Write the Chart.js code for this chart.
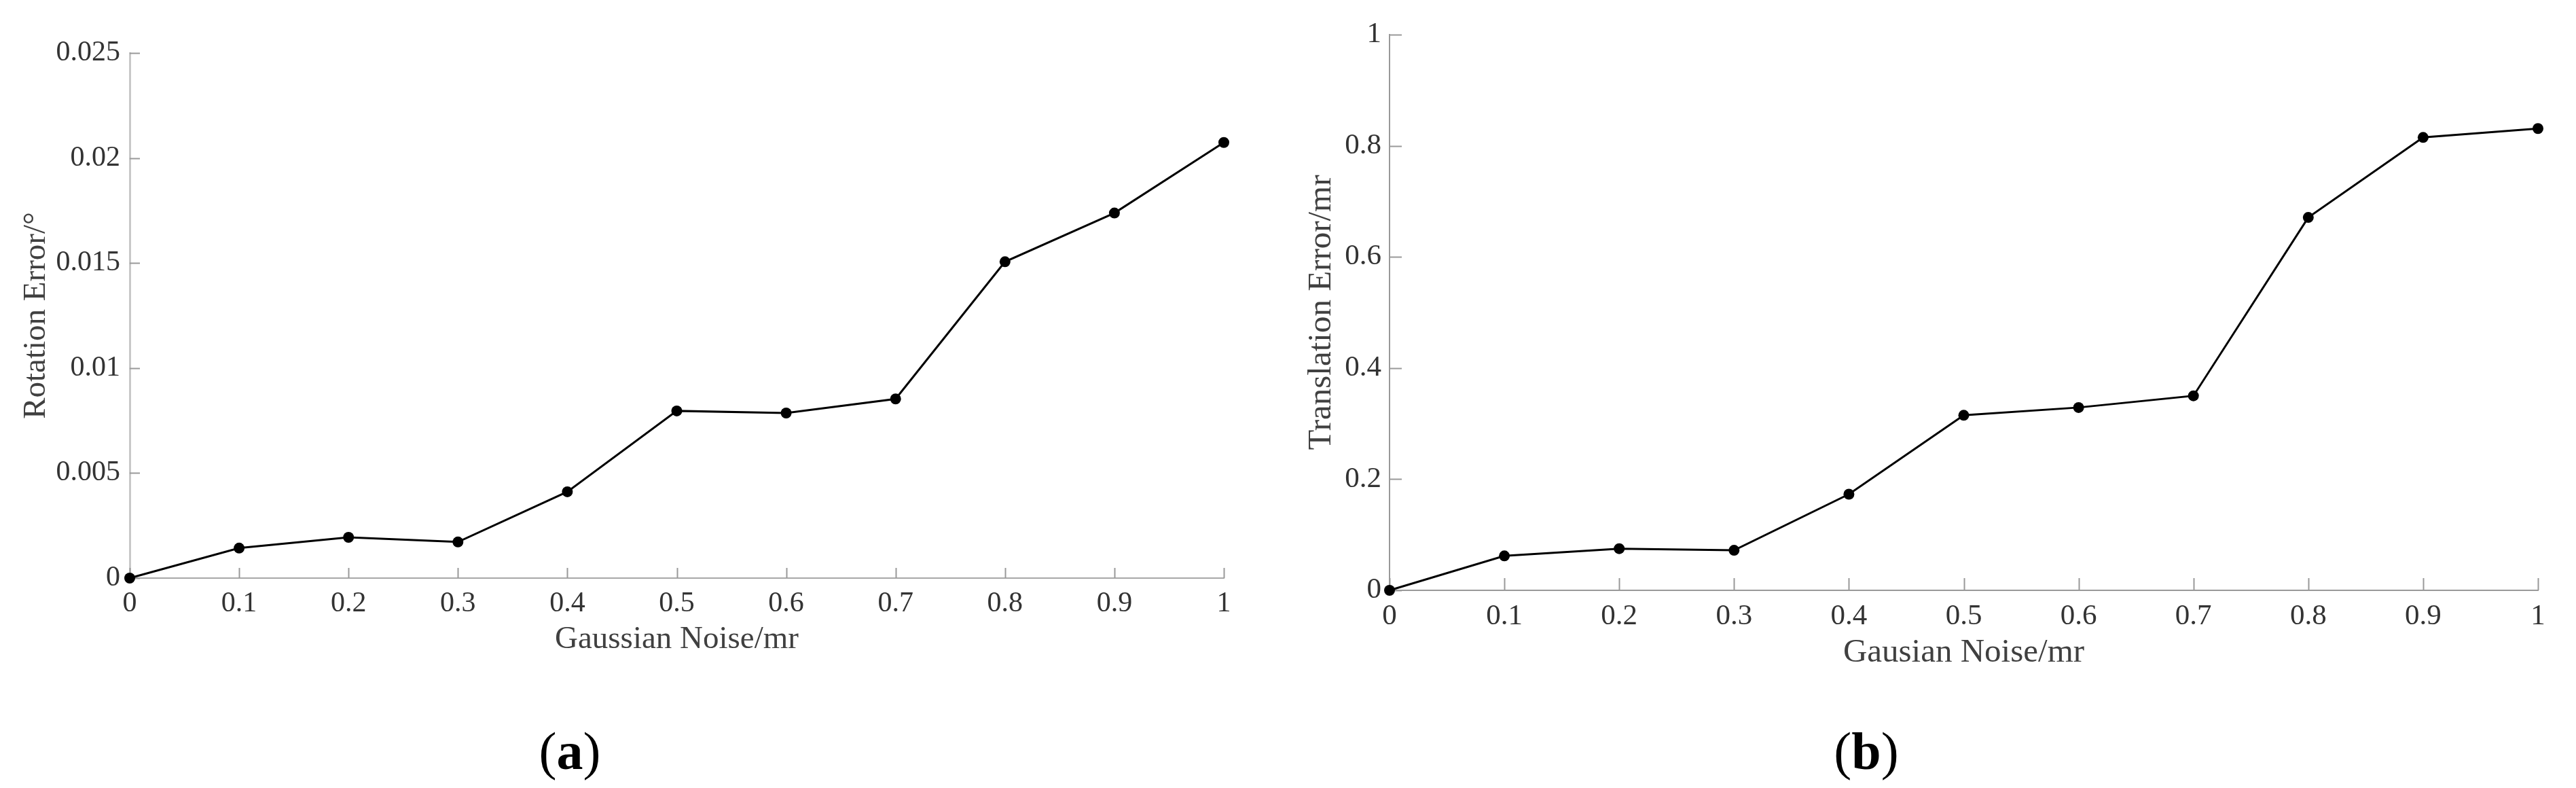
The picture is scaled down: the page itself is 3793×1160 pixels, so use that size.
<!DOCTYPE html>
<html><head><meta charset="utf-8">
<script src="https://cdn.jsdelivr.net/npm/chart.js@4.4.1/dist/chart.umd.min.js"></script>
<style>
html,body{margin:0;padding:0;background:#fff;}
body{width:3793px;height:1160px;position:relative;overflow:hidden;}
.wrap{position:absolute;top:0;height:1160px;}
.cap{position:absolute;font-family:'Liberation Serif',serif;font-size:78px;line-height:1;transform:translate(-50%,-50%);color:#000;white-space:nowrap;}
.cap b{font-weight:bold;}
</style></head><body>
<div class="wrap" style="left:0;width:1900px"><canvas id="ca" width="1900" height="1160"></canvas></div>
<div class="wrap" style="left:1900px;width:1893px"><canvas id="cb" width="1893" height="1160"></canvas></div>
<div class="cap" style="left:839px;top:1106px">(<b>a</b>)</div>
<div class="cap" style="left:2748px;top:1106px">(<b>b</b>)</div>
<script>
const noiseLabels = ['0','0.1','0.2','0.3','0.4','0.5','0.6','0.7','0.8','0.9','1'];
const rotationError = [0, 0.00143, 0.00194, 0.00172, 0.00411, 0.00796, 0.00786, 0.00853, 0.01506, 0.01738, 0.02074];
const translationError = [0, 0.062, 0.075, 0.072, 0.173, 0.315, 0.329, 0.350, 0.671, 0.815, 0.831];
const rotationTicks = ['0','0.005','0.01','0.015','0.02','0.025'];
const translationTicks = ['0','0.2','0.4','0.6','0.8','1'];

const FONT = "'Liberation Serif', 'Times New Roman', serif";

const inwardTicks = {
  id: 'inwardTicks',
  beforeDatasetsDraw(chart, args, opts) {
    const {ctx, chartArea: {left, bottom}} = chart;
    const xs = chart.scales.x, ys = chart.scales.y;
    ctx.save();
    ctx.strokeStyle = opts.color;
    ctx.lineWidth = opts.width;
    ctx.beginPath();
    xs.ticks.forEach((t, i) => {
      const px = Math.round(xs.getPixelForTick(i)) + 0.5;
      ctx.moveTo(px, bottom); ctx.lineTo(px, bottom - opts.length);
    });
    ys.ticks.forEach((t, i) => {
      const py = Math.round(ys.getPixelForTick(i)) + 0.5;
      ctx.moveTo(left, py); ctx.lineTo(left + opts.length, py);
    });
    ctx.stroke();
    ctx.restore();
  }
};

function makeChart(id, cfg) {
  return new Chart(document.getElementById(id), {
    type: 'line',
    data: {
      labels: noiseLabels,
      datasets: [{
        data: cfg.values,
        borderColor: '#000',
        backgroundColor: '#000',
        borderWidth: 3,
        pointRadius: 8,
        pointBorderWidth: 0,
        pointBackgroundColor: '#000',
        tension: 0,
        clip: false
      }]
    },
    options: {
      responsive: false,
      animation: false,
      events: [],
      layout: {padding: cfg.padding},
      plugins: {
        legend: {display: false},
        tooltip: {enabled: false},
        inwardTicks: {color: cfg.tickColor, width: 2, length: cfg.tickLen}
      },
      scales: {
        x: {
          type: 'category',
          offset: false,
          grid: {display: false, drawTicks: false},
          border: {display: true, color: cfg.xBorder, width: cfg.xBorderW},
          ticks: {color: '#333', font: {family: FONT, size: cfg.tickSize}, padding: cfg.xTickPad, maxRotation: 0, autoSkip: false},
          title: {display: true, text: cfg.xTitle, color: '#404040', font: {family: FONT, size: cfg.titleSize}, padding: {top: 0, bottom: cfg.xTitlePadB}},
          afterFit: s => { s.height = cfg.xHeight; }
        },
        y: {
          type: 'linear',
          min: 0, max: cfg.yMax,
          grid: {display: false, drawTicks: false},
          border: {display: true, color: cfg.yBorder, width: cfg.yBorderW},
          ticks: {stepSize: cfg.yStep, color: '#333', font: {family: FONT, size: cfg.tickSize}, padding: cfg.yTickPad,
                  callback: (v, i) => cfg.yLabels[i]},
          title: {display: true, text: cfg.yTitle, color: '#404040', font: {family: FONT, size: cfg.titleSize}, padding: {top: cfg.yTitlePadT, bottom: 0}},
          afterFit: s => { s.width = cfg.yWidth; }
        }
      }
    },
    plugins: [inwardTicks]
  });
}

makeChart('ca', {
  values: rotationError,
  yMax: 0.025, yStep: 0.005, yLabels: rotationTicks,
  xTitle: 'Gaussian Noise/mr', yTitle: 'Rotation Error/°',
  padding: {top: 78, right: 98, left: 0, bottom: 0},
  xHeight: 309, yWidth: 191,
  tickSize: 42, titleSize: 47,
  xTickPad: 13, yTickPad: 14,
  xTitlePadB: 190, yTitlePadT: 25,
  xBorder: '#a8a8a8', xBorderW: 2, yBorder: '#c8c8c8', yBorderW: 3,
  tickColor: '#999', tickLen: 15
});

makeChart('cb', {
  values: translationError,
  yMax: 1, yStep: 0.2, yLabels: translationTicks,
  xTitle: 'Gausian Noise/mr', yTitle: 'Translation Error/mr',
  padding: {top: 51, right: 56, left: 0, bottom: 0},
  xHeight: 291, yWidth: 146,
  tickSize: 43, titleSize: 49,
  xTickPad: 13, yTickPad: 12,
  xTitlePadB: 169, yTitlePadT: 17,
  xBorder: '#999', xBorderW: 2, yBorder: '#999', yBorderW: 2,
  tickColor: '#999', tickLen: 18
});
</script>
</body></html>
